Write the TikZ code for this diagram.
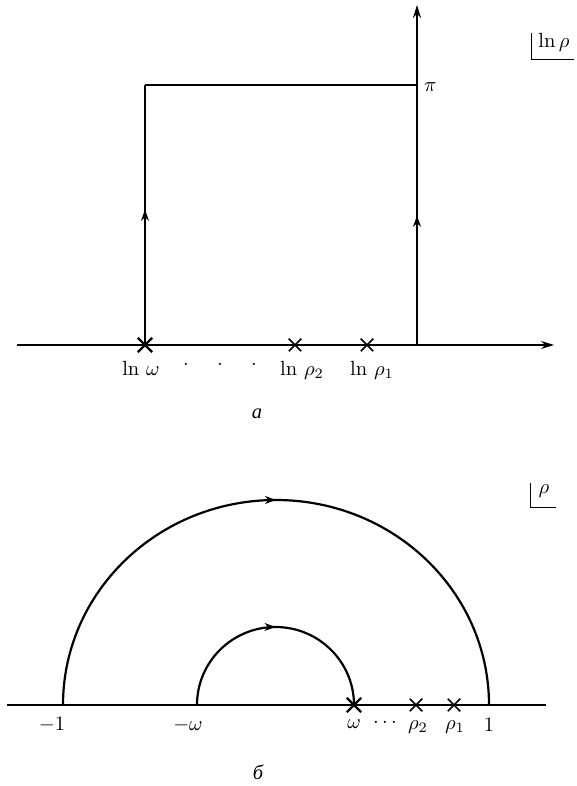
\documentclass[tikz,border=0pt]{standalone}
\usepackage{fontspec}
\newfontfamily\cyr{Liberation Serif}
\usetikzlibrary{arrows.meta,decorations.markings,shapes.misc}
\newcommand\lbx[1]{\scalebox{2.05}{#1}}
\tikzset{
  axisline/.style={line width=1.5pt},
  contour/.style={line width=2.2pt},
  tip/.style={-{Stealth[length=13pt,width=8pt]}},
  midarrow/.style={postaction={decorate},decoration={markings,mark=at position #1 with {\arrow{Stealth[length=11pt,width=8pt]}}}},
  xmark/.style={draw,cross out,minimum size=11pt,inner sep=0pt,line width=1.5pt},
  bxmark/.style={draw,cross out,minimum size=12pt,inner sep=0pt,line width=2.3pt},
  lbl/.style={inner sep=0pt},
}
\begin{document}
\begin{tikzpicture}[x=1pt,y=1pt]
\useasboundingbox (0,0) rectangle (577,786);
% ---- part a ----
\coordinate (aL) at (17,441);
\coordinate (aR) at (554,441);
\coordinate (lw) at (145,441);
\coordinate (lwT) at (145,701);
\coordinate (piT) at (417,701);
\coordinate (iB) at (417,441);
\coordinate (iT) at (417,781);
\draw[axisline,tip] (aL) -- (aR);
\draw[contour,midarrow=0.52] (lw) -- (lwT);
\draw[contour] (lwT) -- (piT);
\draw[contour,midarrow=0.38,tip] (iB) -- (iT);
\node[bxmark] (xlw) at (lw) {};
\node[xmark] (xr2) at (295,441) {};
\node[xmark] (xr1) at (367,441) {};
\node[lbl] (tlw) at (141,418) {\lbx{$\ln\,\omega$}};
\node[lbl] (d1) at (186,421) {\lbx{$\cdot$}};
\node[lbl] (d2) at (220,421) {\lbx{$\cdot$}};
\node[lbl] (d3) at (254,421) {\lbx{$\cdot$}};
\node[lbl] (tr2) at (302,416) {\lbx{$\ln\,\rho_2$}};
\node[lbl] (tr1) at (372,416) {\lbx{$\ln\,\rho_1$}};
\node[lbl,anchor=west] (tpi) at (424,699) {\lbx{$\pi$}};
\node[lbl] (tlnr) at (554,744) {\lbx{$\ln\rho$}};
\coordinate (c1a) at (531,753);
\coordinate (c1b) at (531,726);
\coordinate (c1c) at (574,726);
\draw[line width=1pt] (c1a) -- (c1b) -- (c1c);
\node[lbl] (capa) at (257,372) {\lbx{\cyr\itshape а}};
% ---- part b ----
\coordinate (bL) at (7,81);
\coordinate (bR) at (546,81);
\coordinate (m1) at (63,81);
\coordinate (mw) at (197,81);
\draw[axisline] (bL) -- (bR);
\draw[contour,midarrow=0.5] (m1) arc[start angle=180,end angle=0,x radius=213,y radius=205];
\draw[contour,midarrow=0.5] (mw) arc[start angle=180,end angle=0,x radius=78.5,y radius=78];
\node[bxmark] (xw) at (354,81) {};
\node[xmark] (xp2) at (416,81) {};
\node[xmark] (xp1) at (454,81) {};
\node[lbl] (tm1) at (52,61) {\lbx{$-1$}};
\node[lbl] (tmw) at (188,61) {\lbx{$-\omega$}};
\node[lbl] (tw) at (354,62) {\lbx{$\omega$}};
\node[lbl] (tdots) at (385,63) {\lbx{$\cdots$}};
\node[lbl] (tp2) at (418,59) {\lbx{$\rho_2$}};
\node[lbl] (tp1) at (455,59) {\lbx{$\rho_1$}};
\node[lbl] (t1) at (489,61) {\lbx{$1$}};
\node[lbl] (trho) at (544,295) {\lbx{$\rho$}};
\coordinate (c2a) at (530,303);
\coordinate (c2b) at (530,278);
\coordinate (c2c) at (556,278);
\draw[line width=1pt] (c2a) -- (c2b) -- (c2c);
\node[lbl] (capb) at (258,14) {\lbx{\cyr\itshape б}};
\end{tikzpicture}
\end{document}
